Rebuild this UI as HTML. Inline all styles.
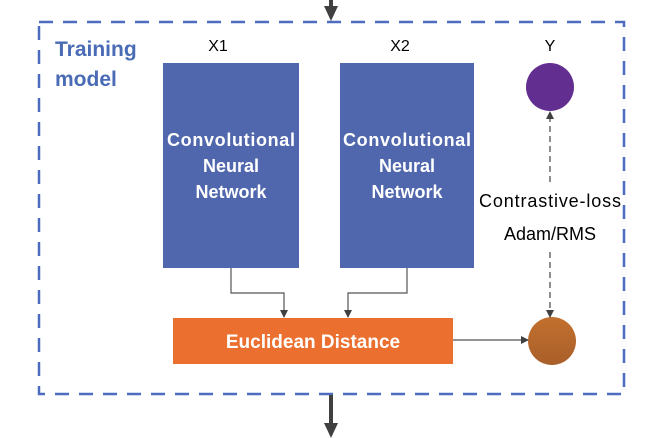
<!DOCTYPE html>
<html><head><style>
body{margin:0;background:#fff;}
svg{display:block;font-family:"Liberation Sans",sans-serif;}
</style></head><body>
<svg width="666" height="438" viewBox="0 0 666 438">
<defs>
<marker id="a" markerWidth="8" markerHeight="8" refX="7" refY="4" orient="auto" markerUnits="userSpaceOnUse"><path d="M0,0 L8,4 L0,8 z" fill="#404040"/></marker>
<linearGradient id="br" x1="0" y1="0" x2="0" y2="1"><stop offset="0" stop-color="#c3702f"/><stop offset="1" stop-color="#a95f29"/></linearGradient>
</defs>
<rect x="39" y="22" width="585" height="372" fill="none" stroke="#4d6cc0" stroke-width="2.5" stroke-dasharray="14,10"/>
<line x1="331" y1="0" x2="331" y2="8" stroke="#404040" stroke-width="4"/>
<path d="M324,6 L338,6 L331,21 z" fill="#404040"/>
<line x1="331" y1="395" x2="331" y2="426" stroke="#404040" stroke-width="4"/>
<path d="M324,423 L338,423 L331,438 z" fill="#404040"/>
<text x="55" y="56" font-size="21" font-weight="bold" fill="#4a6bb5">Training</text>
<text x="55" y="86" font-size="21" font-weight="bold" fill="#4a6bb5">model</text>
<text x="218" y="51" font-size="16" text-anchor="middle">X1</text>
<text x="400" y="51" font-size="16" text-anchor="middle">X2</text>
<text x="550" y="51" font-size="16" text-anchor="middle">Y</text>
<rect x="163" y="63" width="136" height="205" fill="#5066ad"/>
<rect x="340" y="63" width="134" height="205" fill="#5066ad"/>
<g font-size="18" font-weight="bold" fill="#fff" text-anchor="middle">
<text x="231" y="146" textLength="128">Convolutional</text><text x="231" y="172">Neural</text><text x="231" y="198">Network</text>
<text x="407" y="146" textLength="128">Convolutional</text><text x="407" y="172">Neural</text><text x="407" y="198">Network</text>
</g>
<rect x="173" y="318" width="280" height="46" fill="#eb6f2e"/>
<text x="313" y="348" font-size="19" font-weight="bold" fill="#fff" text-anchor="middle">Euclidean  Distance</text>
<path d="M231,268 V293 H284 V317" fill="none" stroke="#555" stroke-width="1.2" marker-end="url(#a)"/>
<path d="M407,268 V293 H348 V317" fill="none" stroke="#555" stroke-width="1.2" marker-end="url(#a)"/>
<path d="M453,340 H528" fill="none" stroke="#555" stroke-width="1.2" marker-end="url(#a)"/>
<circle cx="550" cy="87" r="24" fill="#622e8f"/>
<circle cx="552" cy="341" r="24" fill="url(#br)"/>
<path d="M550,182 V112" fill="none" stroke="#444" stroke-width="1.2" stroke-dasharray="6,4" marker-end="url(#a)"/>
<path d="M550,252 V317" fill="none" stroke="#444" stroke-width="1.2" stroke-dasharray="6,4" marker-end="url(#a)"/>
<text x="550" y="207" font-size="18" text-anchor="middle" textLength="142">Contrastive-loss</text>
<text x="550" y="240" font-size="18" text-anchor="middle">Adam/RMS</text>
</svg>
</body></html>
